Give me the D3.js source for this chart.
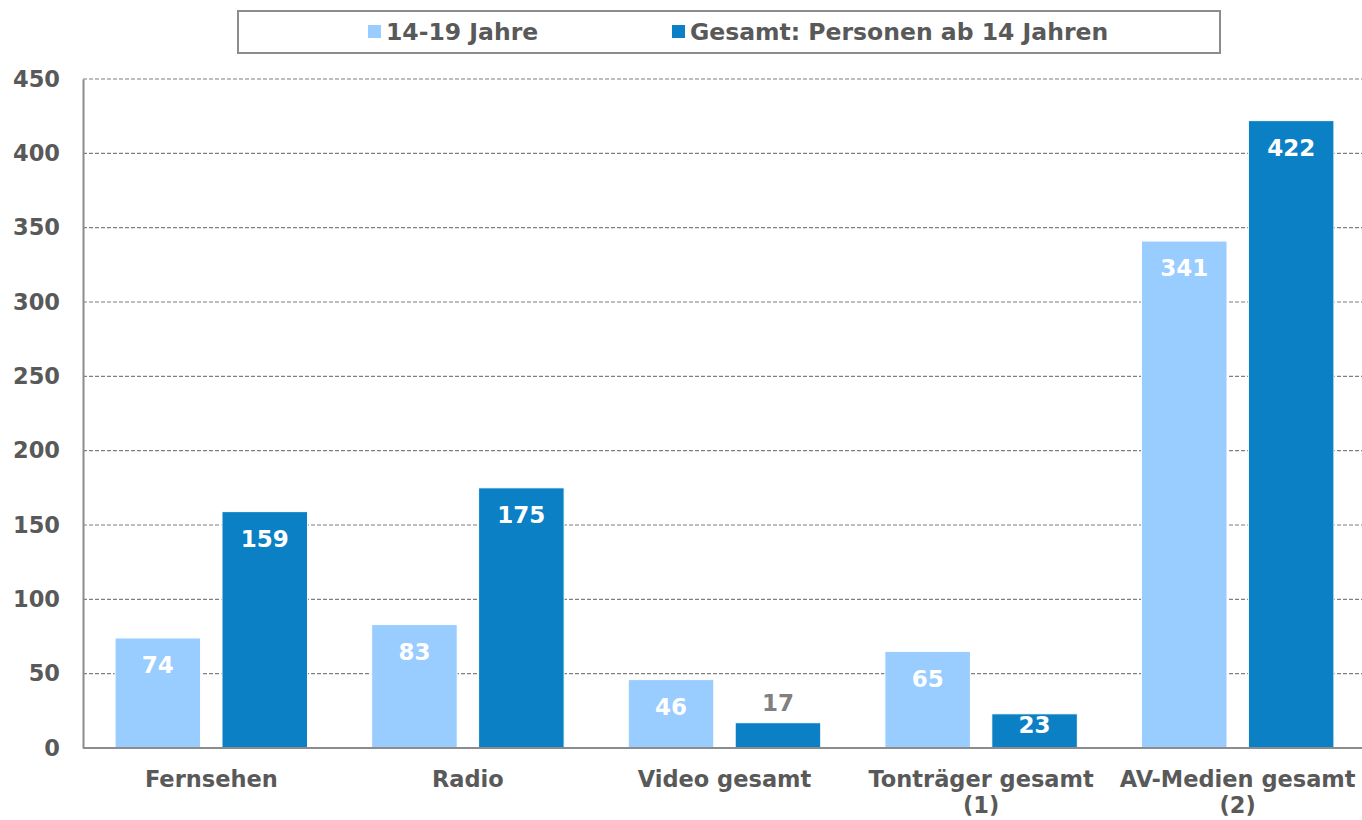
<!DOCTYPE html>
<html>
<head>
<meta charset="utf-8">
<script src="https://cdn.jsdelivr.net/npm/d3@7"></script>
<style>
  body { margin: 0; background: #fff; overflow: hidden; }
  text { font-family: "DejaVu Sans", Verdana, sans-serif; font-weight: bold; }
</style>
</head>
<body>
<script>
// chart data
var categories = ["Fernsehen", "Radio", "Video gesamt", "Tonträger gesamt\n(1)", "AV-Medien gesamt\n(2)"];
var seriesNames = ["14-19 Jahre", "Gesamt: Personen ab 14 Jahren"];
var teenValues = [74, 83, 46, 65, 341];
var totalValues = [159, 175, 17, 23, 422];
var yTicks = [0, 50, 100, 150, 200, 250, 300, 350, 400, 450];
var colors = ["#99CCFF", "#0B80C5"];

var svgWidth = 1362;
var svgHeight = 820;

// plot area runs a bit past the right edge, like the original
var chartMargin = { top: 79, right: -4, bottom: 72, left: 83 };
var chartWidth = svgWidth - chartMargin.left - chartMargin.right;
var chartHeight = svgHeight - chartMargin.top - chartMargin.bottom;

var svg = d3.select("body")
  .append("svg")
  .attr("width", svgWidth)
  .attr("height", svgHeight);

var chartGroup = svg.append("g")
  .attr("transform", `translate(${chartMargin.left}, ${chartMargin.top})`);

var x0 = d3.scaleBand()
  .domain(categories)
  .range([0, chartWidth]);

var x1 = d3.scaleBand()
  .domain(seriesNames)
  .range([0, x0.bandwidth()])
  .paddingInner(0.2)
  .paddingOuter(0.3);

var yLinearScale = d3.scaleLinear()
  .domain([0, 450])
  .range([chartHeight, 0]);

// dashed gridlines
chartGroup.append("g")
  .selectAll("line")
  .data(yTicks.filter(d => d > 0))
  .enter()
  .append("line")
  .attr("x1", 0)
  .attr("x2", chartWidth)
  .attr("y1", d => yLinearScale(d))
  .attr("y2", d => yLinearScale(d))
  .attr("stroke", "#7f7f7f")
  .attr("stroke-width", 1.2)
  .attr("stroke-dasharray", "4,2");

// left axis
var leftAxis = d3.axisLeft(yLinearScale).tickValues(yTicks).tickSize(0).tickPadding(23);
var yAxisG = chartGroup.append("g").call(leftAxis);
yAxisG.select(".domain").attr("stroke", "#8c8c8c").attr("stroke-width", 2);
yAxisG.selectAll("text")
  .attr("fill", "#595959")
  .style("font-size", "22.5px");

// bars
var rows = categories.map((c, i) => ({ cat: c, values: [teenValues[i], totalValues[i]] }));

var groups = chartGroup.selectAll(".group")
  .data(rows)
  .enter()
  .append("g")
  .attr("class", "group")
  .attr("transform", d => `translate(${x0(d.cat)}, 0)`);

var bars = groups.selectAll("g.bar")
  .data(d => d.values.map((v, j) => ({ name: seriesNames[j], value: v, idx: j })))
  .enter()
  .append("g")
  .attr("class", "bar");

bars.append("rect")
  .attr("x", d => x1(d.name))
  .attr("y", d => yLinearScale(d.value))
  .attr("width", x1.bandwidth())
  .attr("height", d => chartHeight - yLinearScale(d.value))
  .attr("fill", d => colors[d.idx])
  .attr("stroke", "#ffffff")
  .attr("stroke-width", 1);

// value labels
bars.append("text")
  .attr("x", d => x1(d.name) + x1.bandwidth() / 2)
  .attr("y", function(d) {
    var top = yLinearScale(d.value);
    var h = chartHeight - top;
    if (h < 30) return top - 20;
    if (h < 50) return top + 11;
    return top + 27;
  })
  .attr("dy", "0.36em")
  .attr("text-anchor", "middle")
  .attr("fill", d => (chartHeight - yLinearScale(d.value) < 30) ? "#808080" : "#ffffff")
  .style("font-size", "23px")
  .text(d => d.value);

// bottom axis line
chartGroup.append("line")
  .attr("x1", 0)
  .attr("x2", chartWidth)
  .attr("y1", chartHeight)
  .attr("y2", chartHeight)
  .attr("stroke", "#8c8c8c")
  .attr("stroke-width", 2);

// category labels
var catLabels = chartGroup.selectAll(".cat")
  .data(categories)
  .enter()
  .append("text")
  .attr("class", "cat")
  .attr("text-anchor", "middle")
  .attr("fill", "#595959")
  .style("font-size", "22.5px")
  .attr("transform", d => `translate(${x0(d) + x0.bandwidth() / 2}, ${chartHeight + 39})`);

catLabels.selectAll("tspan")
  .data(d => d.split("\n"))
  .enter()
  .append("tspan")
  .attr("x", 0)
  .attr("dy", (d, i) => i === 0 ? 0 : 26)
  .text(d => d);

// legend
var legend = svg.append("g");
legend.append("rect")
  .attr("x", 238)
  .attr("y", 11)
  .attr("width", 982)
  .attr("height", 42)
  .attr("fill", "#ffffff")
  .attr("stroke", "#8c8c8c")
  .attr("stroke-width", 2);

var legendX = [368, 672];
var legendItems = legend.selectAll(".legend")
  .data(seriesNames)
  .enter()
  .append("g")
  .attr("class", "legend")
  .attr("transform", (d, i) => `translate(${legendX[i]}, 0)`);

legendItems.append("rect")
  .attr("x", 0)
  .attr("y", 25)
  .attr("width", 13)
  .attr("height", 13)
  .attr("fill", (d, i) => colors[i]);

legendItems.append("text")
  .attr("x", 18)
  .attr("y", 32)
  .attr("dy", "0.36em")
  .attr("fill", "#595959")
  .style("font-size", "23.5px")
  .text(d => d);
</script>
</body>
</html>
